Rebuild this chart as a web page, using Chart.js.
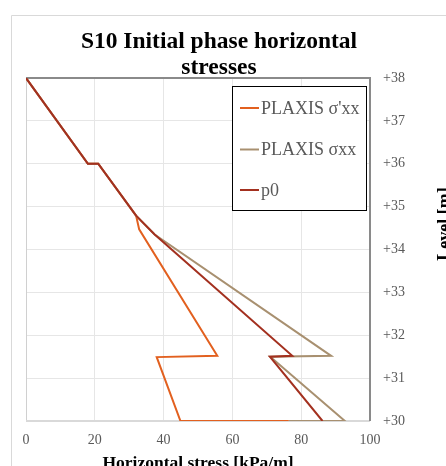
<!DOCTYPE html>
<html>
<head>
<meta charset="utf-8">
<script src="https://cdn.jsdelivr.net/npm/chart.js@4/dist/chart.umd.min.js"></script>
<style>
  html, body { margin: 0; padding: 0; background: #fff; overflow: hidden; }
  #wrap { position: relative; width: 446px; height: 466px; }
</style>
</head>
<body>
<div id="wrap"><canvas id="myChart" width="446" height="466"></canvas></div>
<script>
var serif = "'Liberation Serif', 'Times New Roman', serif";

// levels [m] and horizontal stresses [kPa/m]
var levelsEff = [38, 36, 36, 34.79, 34.47, 31.52, 31.49, 30, 30];
var sigmaEff  = [0, 18, 21, 32, 32.9, 55.6, 38, 44.9, 76.4];

var levelsTot = [38, 36, 36, 34.79, 34.35, 31.52, 31.5, 30, 30];
var sigmaTot  = [0, 18, 21, 32, 37.4, 88.7, 71, 92.7, 76.4];

var levelsP0 = [38, 36, 36, 34.79, 34.35, 31.52, 31.5, 30];
var p0       = [0, 18, 21, 32, 37.4, 77.4, 70.9, 86.2];

var seriesNames = ["PLAXIS σ'xx", "PLAXIS σxx", "p0"];
var seriesColors = ['#E2601F', '#A89070', '#A3301F'];

function toPoints(xs, ys) {
    var pts = [];
    for (var i = 0; i < xs.length; i++) pts.push({ x: xs[i], y: ys[i] });
    return pts;
}

var datasets = [
    toPoints(sigmaEff, levelsEff),
    toPoints(sigmaTot, levelsTot),
    toPoints(p0, levelsP0)
].map(function (pts, i) {
    return {
        label: seriesNames[i],
        data: pts,
        borderColor: seriesColors[i],
        backgroundColor: seriesColors[i],
        borderWidth: 2,
        pointRadius: 0,
        showLine: true,
        tension: 0,
        order: 2 - i   // p0 on top, then σxx, then σ'xx
    };
});

// frame, titles and boxed legend drawn straight onto the canvas
var decorations = {
    id: 'decorations',
    beforeDraw: function (chart) {
        var c = chart.ctx;
        c.save();
        c.strokeStyle = '#d9d9d9';
        c.lineWidth = 1;
        c.beginPath();
        c.moveTo(11.5, 466);
        c.lineTo(11.5, 15.5);
        c.lineTo(446, 15.5);
        c.stroke();
        c.restore();
    },
    beforeDatasetsDraw: function (chart) {
        var c = chart.ctx;
        var a = chart.chartArea;
        c.save();
        c.lineWidth = 1;
        c.strokeStyle = '#d0d0d0';
        c.beginPath();
        c.moveTo(a.left + 0.5, a.top);
        c.lineTo(a.left + 0.5, a.bottom);
        c.stroke();
        c.lineWidth = 2;
        c.strokeStyle = '#d9d9d9';
        c.beginPath();
        c.moveTo(a.left, a.bottom);
        c.lineTo(a.right, a.bottom);
        c.stroke();
        c.strokeStyle = '#8a8a8a';
        c.beginPath();
        c.moveTo(a.left, a.top);
        c.lineTo(a.right, a.top);
        c.lineTo(a.right, a.bottom);
        c.stroke();
        c.restore();
    },
    afterDatasetsDraw: function (chart) {
        var c = chart.ctx;
        var a = chart.chartArea;
        c.save();

        // chart title
        c.fillStyle = '#000';
        c.textAlign = 'center';
        c.textBaseline = 'middle';
        c.font = 'bold 23.5px ' + serif;
        c.fillText('S10 Initial phase horizontal', 219, 42);
        c.fillText('stresses', 219, 68);

        // axis titles
        c.font = 'bold 17.5px ' + serif;
        c.fillText('Horizontal stress [kPa/m]', (a.left + a.right) / 2, 463);
        c.save();
        c.translate(450, 224);
        c.rotate(-Math.PI / 2);
        c.textBaseline = 'alphabetic';
        c.font = 'bold 18px ' + serif;
        c.fillText('Level [m]', 0, 0);
        c.restore();

        // legend
        c.fillStyle = '#fff';
        c.fillRect(232, 86, 134, 124);
        c.strokeStyle = '#000';
        c.lineWidth = 1;
        c.strokeRect(232.5, 86.5, 134, 124);
        var rows = [108, 149.5, 190];
        c.textAlign = 'left';
        c.font = '18px ' + serif;
        chart.data.datasets.forEach(function (ds, i) {
            c.strokeStyle = ds.borderColor;
            c.lineWidth = 2;
            c.beginPath();
            c.moveTo(240, rows[i]);
            c.lineTo(259, rows[i]);
            c.stroke();
            c.fillStyle = '#595959';
            c.fillText(ds.label, 261, rows[i] + 1);
        });
        c.restore();
    }
};

var ctx = document.getElementById('myChart');
var myChart = new Chart(ctx, {
    type: 'scatter',
    data: { datasets: datasets },
    options: {
        responsive: false,
        animation: false,
        layout: { padding: { left: 26, top: 78, right: 0, bottom: 0 } },
        plugins: {
            legend: { display: false },
            title: { display: false },
            tooltip: { enabled: false }
        },
        scales: {
            x: {
                type: 'linear',
                min: 0,
                max: 100,
                ticks: {
                    stepSize: 20,
                    padding: 11,
                    color: '#595959',
                    font: { family: serif, size: 14 }
                },
                grid: { color: '#e6e6e6', drawTicks: false },
                border: { display: false },
                afterFit: function (scale) { scale.height = 45; }
            },
            y: {
                type: 'linear',
                position: 'right',
                min: 30,
                max: 38,
                ticks: {
                    stepSize: 1,
                    padding: 13,
                    color: '#595959',
                    font: { family: serif, size: 14 },
                    callback: function (v) { return '+' + v; }
                },
                grid: { color: '#e6e6e6', drawTicks: false },
                border: { display: false },
                afterFit: function (scale) { scale.width = 76; }
            }
        }
    },
    plugins: [decorations]
});
</script>
</body>
</html>
